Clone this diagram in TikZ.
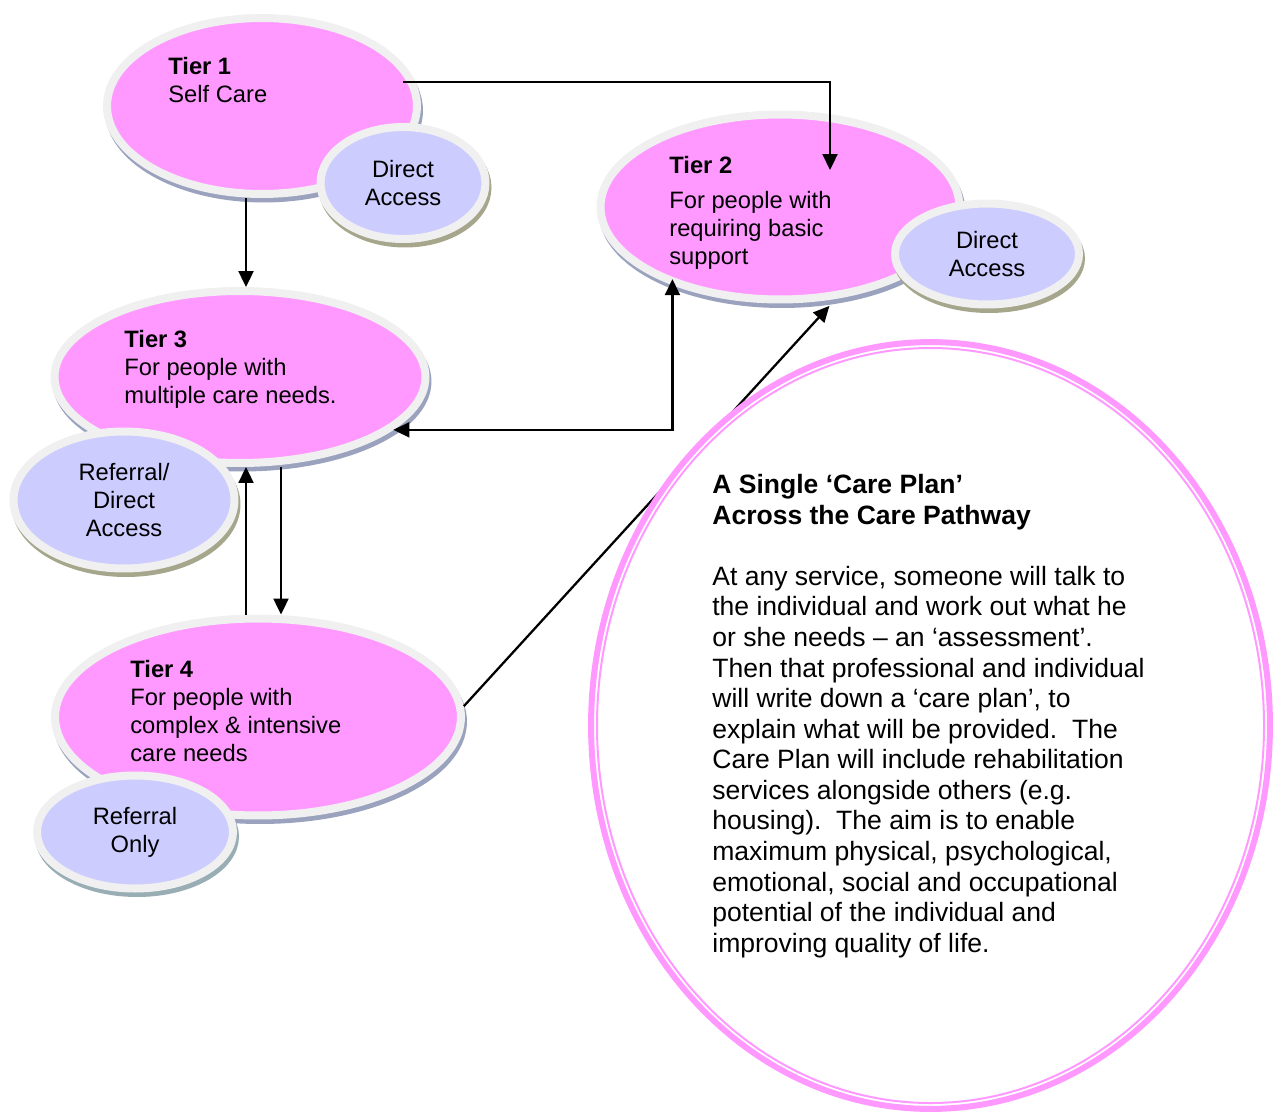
\documentclass[tikz,border=0pt]{standalone}
\usepackage{fontspec}
\setmainfont{Liberation Sans}
\usetikzlibrary{arrows.meta,shapes.geometric,calc}
\definecolor{tierPink}{RGB}{255,153,255}
\definecolor{accBlue}{RGB}{204,204,255}
\definecolor{rimGray}{RGB}{240,240,240}
\definecolor{tierShade}{RGB}{154,162,190}
\definecolor{accShade}{RGB}{166,166,140}
\definecolor{roShade}{RGB}{152,174,180}
\newcommand{\tierfont}{\fontsize{13.5}{15.9}\selectfont}
\newcommand{\planfont}{\fontsize{15.1}{17.4}\selectfont}

\begin{document}
\begin{tikzpicture}[x=0.02cm, y=-0.02cm, every node/.style={font=\tierfont},
  tier/.style={ellipse, draw=rimGray, line width=0.16cm, fill=tierPink, inner sep=0pt,
    preaction={draw=tierShade, fill=tierShade, line width=0.16cm,
      transform canvas={xshift=0.04cm, yshift=-0.09cm}}},
  access/.style={ellipse, draw=rimGray, line width=0.16cm, fill=accBlue, inner sep=0pt,
    align=center, preaction={draw=#1, fill=#1, line width=0.16cm,
      transform canvas={xshift=0.04cm, yshift=-0.09cm}}},
  access/.default=accShade,
  tiertext/.style={anchor=north west, inner sep=0pt, align=left},
  arr/.style={line width=1.3pt, -{Triangle[length=0.32cm, width=0.3cm]}},
  arrboth/.style={line width=1.3pt, {Triangle[length=0.32cm, width=0.3cm]}-{Triangle[length=0.32cm, width=0.3cm]}},
  planline/.style={draw=tierPink}]
\useasboundingbox (0,0) rectangle (1273,1112);

% tier ellipses
\node[tier, minimum width=6.2cm, minimum height=3.52cm] (t1) at (262,106) {};
\node[tier, minimum width=7.18cm, minimum height=3.7cm] (t2) at (780,207) {};
\node[tier, minimum width=7.42cm, minimum height=3.44cm] (t3) at (240,377) {};
\node[tier, minimum width=8.12cm, minimum height=3.94cm] (t4) at (258,717) {};

\node[tiertext] (t1txt) at (168,57) {\textbf{Tier 1}\\Self Care};
\node[tiertext] (t2txt) at (669,156) {\textbf{Tier 2}\\[0.14cm]For people with\\requiring basic\\support};
\node[tiertext] (t3txt) at (124,330) {\textbf{Tier 3}\\For people with\\multiple care needs.};
\node[tiertext] (t4txt) at (130,660) {\textbf{Tier 4}\\For people with\\complex \& intensive\\care needs};

% access ellipses
\node[access, minimum width=3.3cm, minimum height=2.24cm] (da1) at (403,183) {Direct\\Access};
\node[access, minimum width=3.68cm, minimum height=2.02cm] (da2) at (987,254) {Direct\\Access};
\node[access, minimum width=4.42cm, minimum height=2.74cm] (rda) at (124,500) {Referral/\\Direct\\Access};
\node[access=roShade, minimum width=3.92cm, minimum height=2.26cm] (ro) at (135,832) {Referral\\Only};

% connectors
\draw[arr] ([xshift=-0.24cm]t1.9) -| ($(t2.center)+(50,-37)$);
\draw[arr] ([xshift=-0.32cm]t1.south) -- ([xshift=-0.32cm]t1.south |- t3.north);
\draw[arrboth] (t3.-19) -| ([yshift=0.12cm]t2.216);
\draw[arr] ([xshift=-0.24cm]t4.north) -- ([xshift=-0.24cm]t4.north |- t3.south);
\draw[arr] ([xshift=0.82cm]t3.south) -- ([xshift=0.82cm]t3.south |- t4.north);
\draw[arr] (t4.3) -- ([yshift=-0.12cm]t2.-62);

% care plan
\node[ellipse, planline, fill=white, line width=0.12cm, inner sep=0pt,
  minimum width=13.58cm, minimum height=15.34cm] (plan) at (930.5,725.5) {};
\draw[planline, line width=0.04cm] (plan.center) ellipse [x radius=333.5, y radius=377.5];
\node[tiertext, font=\planfont] (plantxt) at (712,474) {\textbf{A Single ‘Care Plan’}\\
\textbf{Across the Care Pathway}\\[17.4pt]
At any service, someone will talk to\\
the individual and work out what he\\
or she needs – an ‘assessment’.\\
Then that professional and individual\\
will write down a ‘care plan’, to\\
explain what will be provided.\ \ The\\
Care Plan will include rehabilitation\\
services alongside others (e.g.\\
housing).\ \ The aim is to enable\\
maximum physical, psychological,\\
emotional, social and occupational\\
potential of the individual and\\
improving quality of life.};
\end{tikzpicture}
\end{document}
